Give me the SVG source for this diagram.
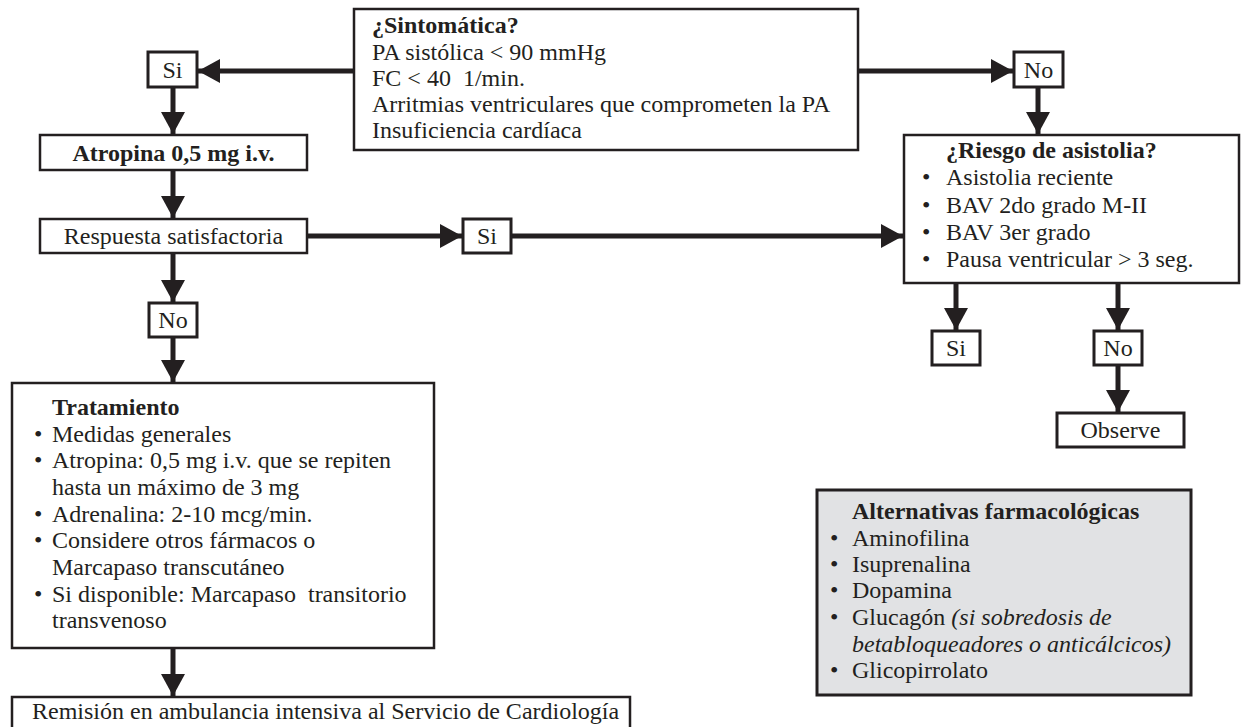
<svg xmlns="http://www.w3.org/2000/svg" width="1241" height="727" viewBox="0 0 1241 727">
<style>
.box{fill:#fff;stroke:#231f20;stroke-width:2.5}
.sbox{fill:#fff;stroke:#231f20;stroke-width:3}
.gbox{fill:#e1e2e4;stroke:#231f20;stroke-width:3}
text{font-family:"Liberation Serif","Times New Roman",serif;font-size:24px;fill:#231f20}
.b{font-weight:bold}
.i{font-style:italic}
.c{text-anchor:middle}
.conn{stroke:#231f20;stroke-width:5;fill:none}
</style>
<defs>
<marker id="ah" viewBox="0 0 22 24" markerWidth="22" markerHeight="24" refX="22" refY="12" orient="auto" markerUnits="userSpaceOnUse">
<path d="M0,0 L22,12 L0,24 z" fill="#231f20"/>
</marker>
</defs>
<rect width="1241" height="727" fill="#fff"/>
<g id="connectors">
<line class="conn" x1="354" y1="71" x2="198" y2="71" marker-end="url(#ah)"/>
<line class="conn" x1="858" y1="71" x2="1013" y2="71" marker-end="url(#ah)"/>
<line class="conn" x1="173" y1="87" x2="173" y2="134" marker-end="url(#ah)"/>
<line class="conn" x1="173" y1="170" x2="173" y2="218" marker-end="url(#ah)"/>
<line class="conn" x1="307" y1="236" x2="462" y2="236" marker-end="url(#ah)"/>
<line class="conn" x1="511" y1="236" x2="903" y2="236" marker-end="url(#ah)"/>
<line class="conn" x1="1038" y1="87" x2="1038" y2="134" marker-end="url(#ah)"/>
<line class="conn" x1="956" y1="283" x2="956" y2="330" marker-end="url(#ah)"/>
<line class="conn" x1="1118" y1="283" x2="1118" y2="330" marker-end="url(#ah)"/>
<line class="conn" x1="1118" y1="365" x2="1118" y2="412" marker-end="url(#ah)"/>
<line class="conn" x1="173" y1="253" x2="173" y2="302" marker-end="url(#ah)"/>
<line class="conn" x1="173" y1="337" x2="173" y2="382" marker-end="url(#ah)"/>
<line class="conn" x1="173" y1="648" x2="173" y2="696" marker-end="url(#ah)"/>
</g>
<g id="sintomatica">
<rect class="box" x="354" y="9" width="504" height="141"/>
<text x="372" y="33" class="b">¿Sintomática?</text>
<text x="372" y="60">PA sistólica &lt; 90 mmHg</text>
<text x="372" y="86" xml:space="preserve">FC &lt; 40  1/min.</text>
<text x="372" y="112">Arritmias ventriculares que comprometen la PA</text>
<text x="372" y="138">Insuficiencia cardíaca</text>
</g>
<g id="si1">
<rect class="sbox" x="148" y="52" width="49" height="35"/>
<text x="172.5" y="78" class="c">Si</text>
</g>
<g id="no1">
<rect class="sbox" x="1014" y="52" width="49" height="35"/>
<text x="1038.5" y="78" class="c">No</text>
</g>
<g id="atropina">
<rect class="box" x="40" y="135" width="267" height="35"/>
<text x="173.5" y="161" class="c b">Atropina 0,5 mg i.v.</text>
</g>
<g id="respuesta">
<rect class="box" x="40" y="219" width="267" height="34"/>
<text x="173.5" y="244" class="c">Respuesta satisfactoria</text>
</g>
<g id="si2">
<rect class="sbox" x="463" y="219" width="48" height="34"/>
<text x="487" y="244" class="c">Si</text>
</g>
<g id="riesgo">
<rect class="box" x="904" y="135" width="335" height="148"/>
<text x="946" y="158" class="b">¿Riesgo de asistolia?</text>
<text x="922" y="185">•</text><text x="946" y="185">Asistolia reciente</text>
<text x="922" y="213">•</text><text x="946" y="213">BAV 2do grado M-II</text>
<text x="922" y="240">•</text><text x="946" y="240">BAV 3er grado</text>
<text x="922" y="267">•</text><text x="946" y="267">Pausa ventricular &gt; 3 seg.</text>
</g>
<g id="si3">
<rect class="sbox" x="932" y="331" width="48" height="34"/>
<text x="956" y="356" class="c">Si</text>
</g>
<g id="no3">
<rect class="sbox" x="1094" y="331" width="48" height="34"/>
<text x="1118" y="356" class="c">No</text>
</g>
<g id="observe">
<rect class="sbox" x="1057" y="413" width="127" height="34"/>
<text x="1120.5" y="438" class="c">Observe</text>
</g>
<g id="no2">
<rect class="sbox" x="149" y="303" width="48" height="34"/>
<text x="173" y="328" class="c">No</text>
</g>
<g id="tratamiento">
<rect class="box" x="12" y="383" width="422" height="265"/>
<text x="52" y="415" class="b">Tratamiento</text>
<text x="34" y="442">•</text><text x="52" y="442">Medidas generales</text>
<text x="34" y="468">•</text><text x="52" y="468">Atropina: 0,5 mg i.v. que se repiten</text>
<text x="52" y="495">hasta un máximo de 3 mg</text>
<text x="34" y="522">•</text><text x="52" y="522">Adrenalina: 2-10 mcg/min.</text>
<text x="34" y="548">•</text><text x="52" y="548">Considere otros fármacos o</text>
<text x="52" y="575">Marcapaso transcutáneo</text>
<text x="34" y="602">•</text><text x="52" y="602" xml:space="preserve">Si disponible: Marcapaso  transitorio</text>
<text x="52" y="628">transvenoso</text>
</g>
<g id="remision">
<rect class="box" x="12" y="697" width="618" height="34"/>
<text x="32" y="719">Remisión en ambulancia intensiva al Servicio de Cardiología</text>
</g>
<g id="alternativas">
<rect class="gbox" x="817" y="490" width="374" height="205"/>
<text x="852" y="519" class="b">Alternativas farmacológicas</text>
<text x="830" y="546">•</text><text x="852" y="546">Aminofilina</text>
<text x="830" y="572">•</text><text x="852" y="572">Isuprenalina</text>
<text x="830" y="598">•</text><text x="852" y="598">Dopamina</text>
<text x="830" y="625">•</text><text x="852" y="625">Glucagón <tspan class="i">(si sobredosis de</tspan></text>
<text x="852" y="652" class="i">betabloqueadores o anticálcicos)</text>
<text x="830" y="678">•</text><text x="852" y="678">Glicopirrolato</text>
</g>
</svg>
